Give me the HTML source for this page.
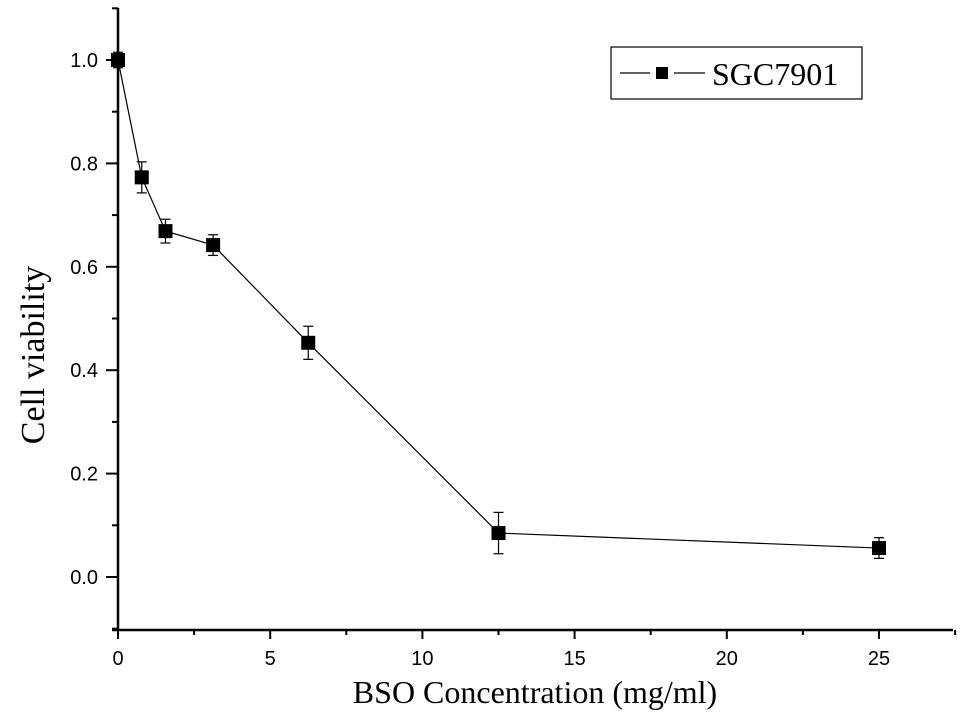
<!DOCTYPE html>
<html><head><meta charset="utf-8"><style>
body{margin:0;background:#fff;}
svg{display:block;}
</style></head><body>
<svg id="chart" width="969" height="720" xmlns="http://www.w3.org/2000/svg">
<g id="axes"></g>
<g id="series"></g>
<g>
<rect x="611" y="47" width="251" height="52" fill="#fff" stroke="#000" stroke-width="1.2"/>
<line x1="620" y1="73" x2="650" y2="73" stroke="#000" stroke-width="1.2"/>
<line x1="674" y1="73" x2="705" y2="73" stroke="#000" stroke-width="1.2"/>
<rect x="656" y="67" width="12" height="12" fill="#000"/>
<text x="712" y="85" font-family="Liberation Serif, serif" font-size="32" fill="#000">SGC7901</text>
</g>
<text x="535" y="703" text-anchor="middle" font-family="Liberation Serif, serif" font-size="32">BSO Concentration (mg/ml)</text>
<text transform="translate(44,355) rotate(-90)" text-anchor="middle" font-family="Liberation Serif, serif" font-size="34">Cell viability</text>
</svg>
<script>
const categories=[0,0.78,1.56,3.125,6.25,12.5,25];
const viability=[1.0,0.773,0.669,0.642,0.453,0.085,0.056];
const errors=[0.015,0.03,0.023,0.02,0.032,0.04,0.02];
const xTicks=[0,5,10,15,20,25];
const yTicks=[0.0,0.2,0.4,0.6,0.8,1.0];
const NS="http://www.w3.org/2000/svg";
const X0=118,XS=30.44,Y0=577,YS=517;
function sx(v){return X0+v*XS;}
function sy(v){return Y0-v*YS;}
function mk(tag,attrs,parent){const e=document.createElementNS(NS,tag);for(const k in attrs)e.setAttribute(k,attrs[k]);parent.appendChild(e);return e;}
const ax=document.getElementById('axes');
let l=mk('line',{x1:112,y1:630,x2:953,y2:630,stroke:'#000','stroke-width':2.5},ax);


l=mk('line',{x1:118,y1:8,x2:118,y2:631,stroke:'#000','stroke-width':2.5},ax);


for(let v=0;v<=27.5;v+=2.5){const big=Math.abs(v%5)<1e-9;mk('line',{x1:sx(v),y1:630,x2:sx(v),y2:630+(big?9:5),stroke:'#000','stroke-width':2},ax);}
xTicks.forEach(v=>{const t=mk('text',{x:sx(v),y:665,'text-anchor':'middle','font-family':'Liberation Sans, sans-serif','font-size':20},ax);t.textContent=v;

});
for(let i=-1;i<=11;i++){const v=i/10;const big=i%2===0&&i>=0;mk('line',{x1:118,y1:sy(v),x2:118-(big?12:6),y2:sy(v),stroke:'#000','stroke-width':2},ax);}
yTicks.forEach(v=>{const t=mk('text',{x:98,y:sy(v)+7,'text-anchor':'end','font-family':'Liberation Sans, sans-serif','font-size':20},ax);t.textContent=v.toFixed(1);

});
const s=document.getElementById('series');
const pl=mk('polyline',{points:categories.map((c,i)=>sx(c)+','+sy(viability[i])).join(' '),fill:'none',stroke:'#000','stroke-width':1.2},s);


categories.forEach((c,i)=>{const x=sx(c),yt=sy(viability[i]+errors[i]),yb=sy(viability[i]-errors[i]);
const g=mk('g',{},s);


mk('line',{x1:x,y1:yt,x2:x,y2:yb,stroke:'#000','stroke-width':1.2},g);
mk('line',{x1:x-5,y1:yt,x2:x+5,y2:yt,stroke:'#000','stroke-width':1.2},g);
mk('line',{x1:x-5,y1:yb,x2:x+5,y2:yb,stroke:'#000','stroke-width':1.2},g);
const r=mk('rect',{x:x-7,y:sy(viability[i])-7,width:14,height:14,fill:'#000'},s);

});
</script>
</body></html>
